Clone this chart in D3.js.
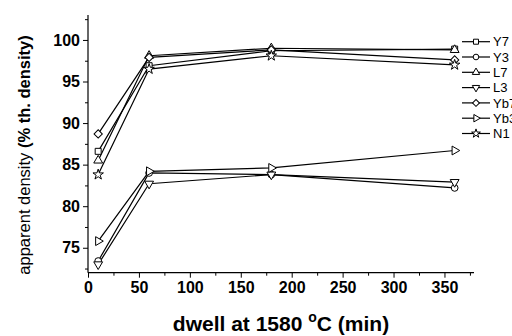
<!DOCTYPE html>
<html><head><meta charset="utf-8">
<script src="https://cdn.jsdelivr.net/npm/d3@7"></script>
<style>
body{margin:0;background:#fff;}
svg{display:block;font-family:Arial,"Liberation Sans",Helvetica,sans-serif;}
</style></head>
<body>
<svg id="c" width="512" height="336"></svg>
<script>
const dwell = [10, 60, 180, 360];
const seriesNames = ["Y7", "Y3", "L7", "L3", "Yb7", "Yb3", "N1"];
const Y7  = [86.6, 96.9, 98.7, 98.9];
const Y3  = [73.4, 84.0, 83.8, 82.2];
const L7  = [85.5, 98.1, 99.0, 98.8];
const L3  = [73.0, 82.7, 83.8, 82.9];
const Yb7 = [88.7, 97.9, 98.8, 97.6];
const Yb3 = [75.8, 84.2, 84.6, 86.7];
const N1  = [83.8, 96.5, 98.1, 97.0];
const xTicks = [0, 50, 100, 150, 200, 250, 300, 350];
const yTicks = [75, 80, 85, 90, 95, 100];

const values = {Y7, Y3, L7, L3, Yb7, Yb3, N1};
const markerOf = {Y7:"square", Y3:"circle", L7:"triUp", L3:"triDown", Yb7:"diamond", Yb3:"triRight", N1:"star"};

const svg = d3.select("#c");
const x = d3.scaleLinear().domain([0, 379]).range([88, 474]);
const y = d3.scaleLinear().domain([72, 103]).range([272.7, 15]);

function symPath(kind, s) {
  switch(kind){
    case "square": return {d: d3.symbol(d3.symbolSquare, 36*s)(), r:0};
    case "circle": return {d: d3.symbol(d3.symbolCircle, 36*s)(), r:0};
    case "triUp": return {d: d3.symbol(d3.symbolTriangle, 34*s)(), r:0};
    case "triDown": return {d: d3.symbol(d3.symbolTriangle, 34*s)(), r:180};
    case "triRight": return {d: d3.symbol(d3.symbolTriangle, 34*s)(), r:90};
    case "diamond": return {d: d3.symbol(d3.symbolSquare, 34*s)(), r:45};
    case "star": return {d: d3.symbol(d3.symbolStar, 34*s)(), r:0};
  }
}

// axes
const g = svg.append("g");
g.append("line").attr("x1", x(0)).attr("x2", x(379)).attr("y1", y(72)).attr("y2", y(72)).attr("stroke","#000").attr("stroke-width",1.2);
g.append("line").attr("x1", x(0)).attr("x2", x(0)).attr("y1", y(72)).attr("y2", y(103)).attr("stroke","#000").attr("stroke-width",1.2);

const xAxis = d3.axisBottom(x).tickValues(xTicks).tickSize(5).tickPadding(4).tickFormat(d3.format("d"));
const xMinor = d3.axisBottom(x).tickValues(d3.range(25, 379, 50)).tickSize(3).tickFormat("");
const yAxis = d3.axisLeft(y).tickValues(yTicks).tickSize(5).tickPadding(3).tickFormat(d3.format("d"));
const yMinor = d3.axisLeft(y).tickValues(d3.range(72.5, 103, 5)).tickSize(3).tickFormat("");

function styleAxis(sel){
  sel.select(".domain").remove();
  sel.selectAll("line").attr("stroke","#000").attr("stroke-width",1);
  sel.selectAll("text").attr("fill","#000").attr("font-size",16).attr("font-weight","bold").attr("font-family","Arial, 'Liberation Sans', sans-serif");
}
svg.append("g").attr("transform",`translate(0,${y(72)})`).call(xAxis).call(styleAxis);
svg.append("g").attr("transform",`translate(0,${y(72)})`).call(xMinor).call(styleAxis);
svg.append("g").attr("transform",`translate(${x(0)},0)`).call(yAxis).call(styleAxis);
svg.append("g").attr("transform",`translate(${x(0)},0)`).call(yMinor).call(styleAxis);

// lines
const line = d3.line().x((d,i)=>x(dwell[i])).y(d=>y(d));
seriesNames.forEach(n=>{
  svg.append("path").attr("d", line(values[n])).attr("fill","none").attr("stroke","#000").attr("stroke-width",1.2);
});
seriesNames.forEach(n=>{
  const sp = symPath(markerOf[n], 1);
  values[n].forEach((v,i)=>{
    svg.append("path").attr("d", sp.d)
      .attr("transform",`translate(${x(dwell[i])},${y(v)}) rotate(${sp.r})`)
      .attr("fill","#fff").attr("stroke","#000").attr("stroke-width",1);
  });
});

// legend
const lg = svg.append("g");
seriesNames.forEach((n,i)=>{
  const ly = 41.7 + i*15.3;
  lg.append("line").attr("x1",462).attr("x2",490).attr("y1",ly).attr("y2",ly).attr("stroke","#000").attr("stroke-width",1.2);
  const sp = symPath(markerOf[n], 0.7);
  lg.append("path").attr("d", sp.d).attr("transform",`translate(476,${ly}) rotate(${sp.r})`)
    .attr("fill","#fff").attr("stroke","#000").attr("stroke-width",1);
  lg.append("text").attr("x",493).attr("y",ly).attr("dy","0.36em").attr("font-size",13).text(n);
});

// axis titles
const xt = svg.append("text").attr("x", 281).attr("y", 331).attr("text-anchor","middle")
  .attr("font-size",21).attr("font-weight","bold");
xt.append("tspan").text("dwell at 1580 ");
xt.append("tspan").attr("font-size",14).attr("dy",-9).text("o");
xt.append("tspan").attr("dy",9).text("C (min)");

const yt = svg.append("text").attr("transform","translate(30,155) rotate(-90)").attr("text-anchor","middle").attr("font-size",16.5);
yt.append("tspan").text("apparent density ");
yt.append("tspan").attr("font-weight","bold").text("(% th. density)");
</script>
</body></html>
